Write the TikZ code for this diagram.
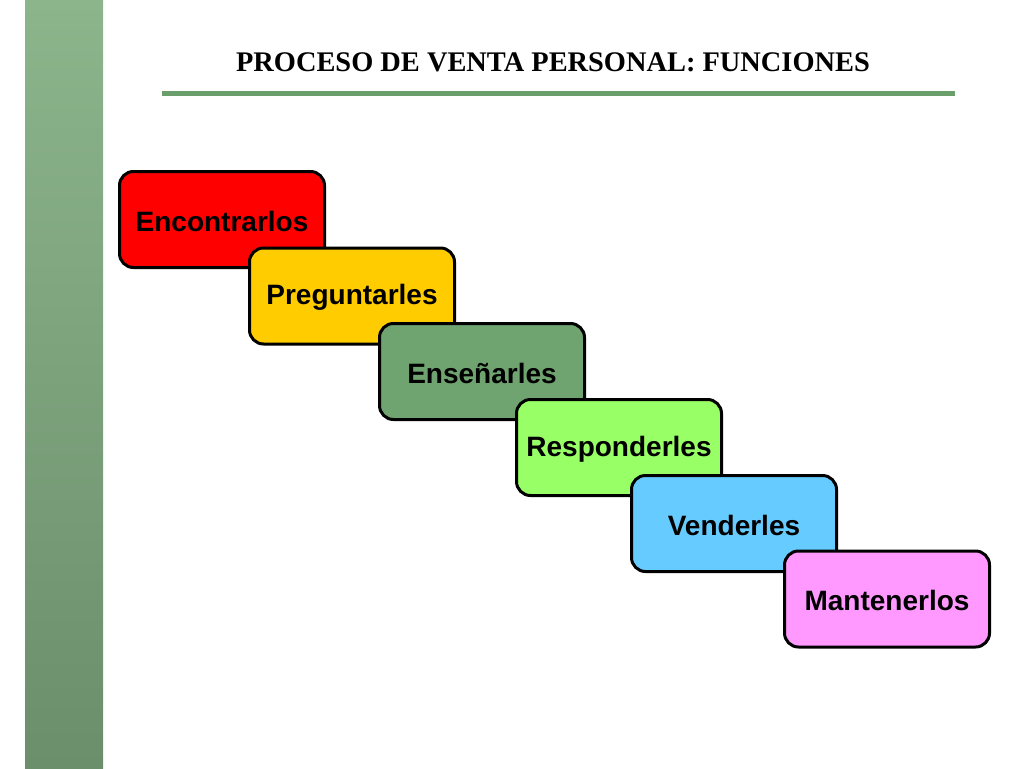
\documentclass[tikz,border=0pt]{standalone}
\usepackage{fontspec}
\setmainfont{Liberation Serif}
\newfontfamily\boxfont{Liberation Sans}
\definecolor{bartop}{HTML}{8CB58C}
\definecolor{barbot}{HTML}{6B8E6B}
\definecolor{rulegreen}{HTML}{6A9E6A}
\definecolor{cred}{HTML}{FF0000}
\definecolor{cyellow}{HTML}{FFCC00}
\definecolor{cgreen}{HTML}{6FA36F}
\definecolor{clight}{HTML}{99FF66}
\definecolor{cblue}{HTML}{66CCFF}
\definecolor{cpink}{HTML}{FF99FF}
\tikzset{
  stepbox/.style={draw=black, line width=3pt, rounded corners=14pt,
    minimum width=205pt, minimum height=96pt, inner sep=0pt,
    font=\boxfont\bfseries\fontsize{28}{31}\selectfont, text=black},
  steptext/.style={font=\boxfont\bfseries\fontsize{28}{31}\selectfont, text=black, inner sep=0pt},
}
\begin{document}
\begin{tikzpicture}[x=1pt,y=-1pt]
\useasboundingbox (0,0) rectangle (1024,768);
\fill[white] (0,0) rectangle (1024,768);
\shade[top color=bartop, bottom color=barbot] (25,0) rectangle (103,768);
\node[anchor=base, font=\bfseries\fontsize{28.4}{31}\selectfont] (title) at (553,71) {PROCESO DE VENTA PERSONAL: FUNCIONES};
\coordinate (ruleL) at (162,93.5);
\coordinate (ruleR) at (955,93.5);
\draw[rulegreen, line width=5pt] (ruleL) -- (ruleR);
\node[stepbox, fill=cred] (b1) at (222,219.5) {};
\node[steptext] (t1) at (222,221) {Encontrarlos};
\node[stepbox, fill=cyellow] (b2) at (352,296) {};
\node[steptext] (t2) at (352,297.5) {Preguntarles};
\node[stepbox, fill=cgreen] (b3) at (482,371.5) {};
\node[steptext] (t3) at (482,373) {Enseñarles};
\node[stepbox, fill=clight] (b4) at (619,447.5) {};
\node[steptext] (t4) at (619,449) {Responderles};
\node[stepbox, fill=cblue] (b5) at (734,523.5) {};
\node[steptext] (t5) at (734,525) {Venderles};
\node[stepbox, fill=cpink] (b6) at (887,599) {};
\node[steptext] (t6) at (887,600.5) {Mantenerlos};
\end{tikzpicture}
\end{document}
